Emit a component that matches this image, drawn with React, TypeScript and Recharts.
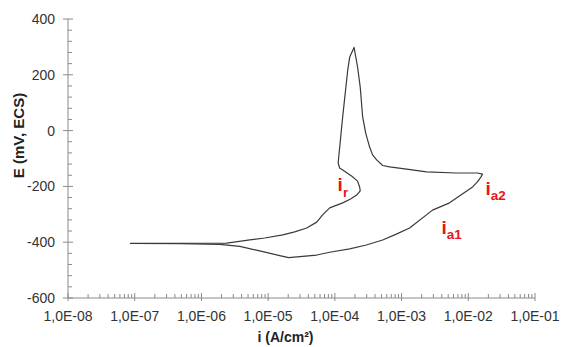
import { ComposedChart, Line, XAxis, YAxis, ReferenceDot } from "recharts";

// cyclic polarisation curve (i in A/cm², E in mV/ECS)
const currentDensity = [
  8.47e-8, 4.75e-7, 1.88e-6, 3.76e-6, 7.48e-6, 1.49e-5, 2.03e-5, 5.35e-5,
  8.36e-5, 1.67e-4, 2.96e-4, 5.2e-4, 8.34e-4, 1.32e-3, 2.91e-3, 5.24e-3,
  6.65e-3, 1.16e-2, 1.37e-2, 1.56e-2, 1.63e-2, 1.37e-2, 6.65e-3, 2.37e-3,
  1.19e-3, 6.6e-4, 5.2e-4, 4.23e-4, 3.68e-4, 3.32e-4, 2.9e-4, 2.61e-4,
  2.4e-4, 2.19e-4, 1.94e-4, 1.67e-4, 1.56e-4, 1.31e-4, 1.12e-4, 1.18e-4,
  1.31e-4, 1.78e-4, 2.19e-4, 2.35e-4, 2.4e-4, 2.12e-4, 1.72e-4, 1.31e-4,
  8.36e-5, 6.56e-5, 5.35e-5, 3.78e-5, 2.5e-5, 1.66e-5, 8.89e-6, 5.31e-6,
  2.4e-6, 4.75e-7, 8.47e-8,
];
const potential = [
  -404, -405, -408, -415, -431, -448, -455, -446,
  -436, -424, -410, -392, -371, -349, -285, -259,
  -242, -202, -184, -165, -156, -152, -152, -148,
  -138, -130, -125, -105, -87, -59, -9, 49,
  156, 228, 298, 264, 217, 49, -116, -134,
  -141, -163, -181, -202, -216, -231, -245, -259,
  -277, -302, -328, -349, -363, -374, -385, -392,
  -403, -404, -404,
];

const curve = currentDensity.map((i, k) => ({ i, e: potential[k] }));

const majorTicksX = [1e-8, 1e-7, 1e-6, 1e-5, 1e-4, 1e-3, 1e-2, 1e-1];
const minorSteps = [2, 3, 4, 5, 6, 7, 8, 9];
const xTicks = [
  ...majorTicksX,
  ...majorTicksX.slice(0, -1).flatMap((d) => minorSteps.map((m) => m * d)),
].sort((a, b) => a - b);

const yTicks = [
  -600, -560, -520, -480, -440, -400, -360, -320, -280, -240, -200, -160, -120,
  -80, -40, 0, 40, 80, 120, 160, 200, 240, 280, 320, 360, 400,
];
const yLabels = [-600, -400, -200, 0, 200, 400];

const annotations = [
  { main: "i", sub: "r", i: 1.1e-4, e: -216, dy: 6 },
  { main: "i", sub: "a1", i: 3.97e-3, e: -371, dy: 5 },
  { main: "i", sub: "a2", i: 1.81e-2, e: -231, dy: 5 },
];

const FONT = '"Liberation Sans", Arial, sans-serif';
const AXIS = "#8a8a8a";
const RED = "#e8141c";

const fmtX = (v: number) => {
  const exp = Math.round(Math.log10(v));
  return `1,0E-${String(-exp).padStart(2, "0")}`;
};

function XTick(props: any) {
  const { x, y, payload } = props;
  const v = payload.value;
  const major = majorTicksX.some((t) => Math.abs(t - v) / t < 1e-6);
  return (
    <g>
      <line x1={x} x2={x} y1={y - (major ? 5 : 4)} y2={y + (major ? 3 : 0)} stroke={AXIS} />
      {major && (
        <text x={x} y={y + 23} textAnchor="middle" fontSize={14} fill="#333" fontFamily={FONT}>
          {fmtX(v)}
        </text>
      )}
    </g>
  );
}

function YTick(props: any) {
  const { x, y, payload } = props;
  const v = payload.value;
  const major = yLabels.includes(v);
  return (
    <g>
      <line x1={x - (major ? 5 : 0)} x2={x + (major ? 5 : 4)} y1={y} y2={y} stroke={AXIS} />
      {major && (
        <text x={x - 13} y={y + 5} textAnchor="end" fontSize={14} fill="#333" fontFamily={FONT}>
          {v}
        </text>
      )}
    </g>
  );
}

function Annot({ cx, cy, main, sub, dy }: any) {
  return (
    <text x={cx} y={cy} fill={RED} fontFamily={FONT} fontWeight="bold">
      <tspan fontSize={19}>{main}</tspan>
      <tspan fontSize={13.5} dy={dy}>{sub}</tspan>
    </text>
  );
}

export default function App() {
  return (
    <div style={{ position: "absolute", left: 0, top: 0, background: "#fff" }}>
      <ComposedChart
        width={561}
        height={347}
        data={curve}
        margin={{ top: 19, right: 26, bottom: 0, left: 8 }}
      >
        <XAxis
          dataKey="i"
          type="number"
          scale="log"
          domain={[1e-8, 1e-1]}
          allowDataOverflow
          ticks={xTicks}
          interval={0}
          tickSize={0}
          tickMargin={0}
          tickLine={false}
          tick={(p: any) => <XTick {...p} />}
          axisLine={{ stroke: AXIS }}
          height={49}
          label={{
            content: ({ viewBox }: any) => (
              <text
                x={viewBox.x + viewBox.width / 2 - 16}
                y={viewBox.y + 44}
                textAnchor="middle"
                fontSize={14}
                fontWeight="bold"
                fill="#222"
                fontFamily={FONT}
              >
                i (A/cm²)
              </text>
            ),
          }}
        />
        <YAxis
          dataKey="e"
          type="number"
          domain={[-600, 400]}
          ticks={yTicks}
          interval={0}
          tickSize={0}
          tickMargin={0}
          tickLine={false}
          tick={(p: any) => <YTick {...p} />}
          axisLine={{ stroke: AXIS }}
          width={60}
          label={{
            content: ({ viewBox }: any) => (
              <text
                transform={`translate(${viewBox.x + 10},${viewBox.y + viewBox.height / 2 - 23}) rotate(-90)`}
                textAnchor="middle"
                dominantBaseline="central"
                fontSize={15}
                fontWeight="bold"
                fill="#222"
                fontFamily={FONT}
              >
                E (mV, ECS)
              </text>
            ),
          }}
        />
        <Line
          dataKey="e"
          type="linear"
          stroke="#3a3a3a"
          strokeWidth={1.2}
          strokeLinejoin="round"
          dot={false}
          activeDot={false}
          isAnimationActive={false}
        />
        {annotations.map((a) => (
          <ReferenceDot
            key={a.sub}
            x={a.i}
            y={a.e}
            r={0}
            shape={(p: any) => <Annot {...p} main={a.main} sub={a.sub} dy={a.dy} />}
          />
        ))}
      </ComposedChart>
    </div>
  );
}
